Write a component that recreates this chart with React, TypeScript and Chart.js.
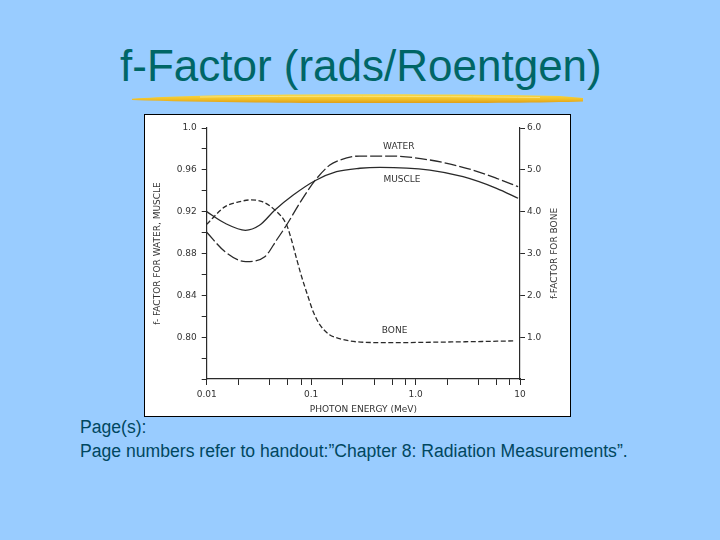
import React, { useEffect, useRef } from "react";
import { Chart, registerables } from "chart.js";

Chart.register(...registerables);

// ---- data ----
const energyWater = [0.01, 0.015, 0.0237, 0.036, 0.0467, 0.058, 0.081, 0.1087, 0.151, 0.189, 0.29, 0.565, 1.37, 3.08, 5.96, 9.59];
const fWater = [0.9003, 0.8817, 0.8722, 0.8769, 0.8929, 0.907, 0.931, 0.9496, 0.9646, 0.9694, 0.9732, 0.9732, 0.9694, 0.9615, 0.9519, 0.9439];

const energyMuscle = [0.01, 0.015, 0.0235, 0.032, 0.045, 0.0674, 0.1087, 0.175, 0.293, 0.455, 1.37, 2.85, 5.96, 9.59];
const fMuscle = [0.92, 0.9089, 0.9022, 0.907, 0.9216, 0.9359, 0.9496, 0.9582, 0.9615, 0.9624, 0.9598, 0.9534, 0.9423, 0.9328];

const energyBone = [0.01, 0.015, 0.0208, 0.026, 0.034, 0.045, 0.0583, 0.0651, 0.073, 0.081, 0.094, 0.105, 0.121, 0.15, 0.19, 0.27, 0.5, 0.71, 1.5, 3, 8.6];
const fBone = [3.7, 4.12, 4.24, 4.28, 4.24, 4.04, 3.68, 3.31, 2.85, 2.45, 1.95, 1.6, 1.3, 1.06, 0.96, 0.89, 0.87, 0.87, 0.88, 0.89, 0.91];

const energyTicks = [0.01, 0.02, 0.04, 0.06, 0.08, 0.1, 0.2, 0.4, 0.6, 0.8, 1, 2, 4, 6, 8, 10];
const energyLabeled = [0.01, 0.1, 1, 10];
const energyLabelText = ["0.01", "0.1", "1.0", "10"];

const leftTicks = [0.76, 0.78, 0.8, 0.82, 0.84, 0.86, 0.88, 0.9, 0.92, 0.94, 0.96, 0.98, 1.0];
const leftLabeled = [0.8, 0.84, 0.88, 0.92, 0.96, 1.0];
const leftLabelText = ["0.80", "0.84", "0.88", "0.92", "0.96", "1.0"];

const rightTicks = [0, 1, 2, 3, 4, 5, 6];
const rightLabeled = [1, 2, 3, 4, 5, 6];
const rightLabelText = ["1.0", "2.0", "3.0", "4.0", "5.0", "6.0"];

const curveLabels = ["WATER", "MUSCLE", "BONE"];
const curveLabelEnergy = [0.69, 0.74, 0.63];
const curveLabelF = [0.9818, 0.9503, 0.8059];

const titleText = "f-Factor (rads/Roentgen)";
const xTitle = "PHOTON ENERGY (MeV)";
const leftTitle = "f- FACTOR FOR WATER, MUSCLE";
const rightTitle = "f-FACTOR FOR BONE";
const noteLine1 = "Page(s):";
const noteLine2 = "Page numbers refer to handout:\u201DChapter 8: Radiation Measurements\u201D.";

const INK = "#2a2a2a";
const TEXT = "#333333";
const FONT = { family: "'DejaVu Sans', sans-serif", size: 9 };

function pick(value: number, keys: number[], texts: string[]): string {
  for (let i = 0; i < keys.length; i++) {
    if (Math.abs(keys[i] - value) < 1e-6) return texts[i];
  }
  return "";
}

const annotatePlugin = {
  id: "curveAnnotations",
  afterDatasetsDraw(chart: any) {
    const { ctx, scales } = chart;
    const x = scales.x;
    const y = scales.y;
    const y2 = scales.y2;
    ctx.save();
    ctx.font = "9px 'DejaVu Sans', sans-serif";
    ctx.fillStyle = TEXT;
    ctx.textAlign = "center";
    ctx.textBaseline = "middle";
    curveLabels.forEach((t, i) => {
      ctx.fillText(t, x.getPixelForValue(curveLabelEnergy[i]), y.getPixelForValue(curveLabelF[i]));
    });
    ctx.translate(y2.right - 15, (y2.top + y2.bottom) / 2);
    ctx.rotate(-Math.PI / 2);
    ctx.fillText(rightTitle, 0, 0);
    ctx.restore();
  },
};

function FactorChart() {
  const ref = useRef<HTMLCanvasElement | null>(null);
  useEffect(() => {
    if (!ref.current) return;
    const tickGrid = (len: number) => ({
      display: true,
      drawOnChartArea: false,
      drawTicks: true,
      tickLength: len,
      color: INK,
      lineWidth: 1,
    });
    const border = { display: true, color: INK, width: 1.2 };
    const chart = new Chart(ref.current, {
      type: "line",
      data: {
        datasets: [
          {
            label: "WATER",
            data: energyWater.map((e, i) => ({ x: e, y: fWater[i] })),
            yAxisID: "y",
            borderColor: INK,
            borderWidth: 1.3,
            borderDash: [12, 3],
            pointRadius: 0,
            cubicInterpolationMode: "monotone",
            fill: false,
          },
          {
            label: "MUSCLE",
            data: energyMuscle.map((e, i) => ({ x: e, y: fMuscle[i] })),
            yAxisID: "y",
            borderColor: INK,
            borderWidth: 1.3,
            pointRadius: 0,
            cubicInterpolationMode: "monotone",
            fill: false,
          },
          {
            label: "BONE",
            data: energyBone.map((e, i) => ({ x: e, y: fBone[i] })),
            yAxisID: "y2",
            borderColor: INK,
            borderWidth: 1.3,
            borderDash: [5, 2.5],
            pointRadius: 0,
            cubicInterpolationMode: "monotone",
            fill: false,
          },
        ],
      },
      options: {
        animation: false,
        responsive: false,
        maintainAspectRatio: false,
        layout: { padding: { top: 13, left: 0, right: 0, bottom: 0 } },
        plugins: { legend: { display: false }, tooltip: { enabled: false } },
        scales: {
          x: {
            type: "logarithmic",
            position: "bottom",
            min: 0.01,
            max: 10,
            afterBuildTicks: (s: any) => {
              s.ticks = energyTicks.map((v) => ({ value: v }));
            },
            afterFit: (s: any) => {
              s.height = 37;
            },
            ticks: {
              autoSkip: false,
              maxRotation: 0,
              minRotation: 0,
              padding: 4,
              color: TEXT,
              font: FONT,
              callback: (v: any) => pick(Number(v), energyLabeled, energyLabelText),
            },
            grid: tickGrid(6),
            border,
            title: { display: true, text: xTitle, color: TEXT, font: FONT, padding: { top: 0, bottom: 1 } },
          },
          y: {
            type: "linear",
            position: "left",
            min: 0.76,
            max: 1.0,
            afterBuildTicks: (s: any) => {
              s.ticks = leftTicks.map((v) => ({ value: v }));
            },
            afterFit: (s: any) => {
              s.width = 61.7;
            },
            ticks: {
              autoSkip: false,
              padding: 5,
              color: TEXT,
              font: FONT,
              callback: (v: any) => pick(Number(v), leftLabeled, leftLabelText),
            },
            grid: tickGrid(5),
            border,
            title: { display: true, text: leftTitle, color: TEXT, font: FONT, padding: { top: 7.6, bottom: 0 } },
          },
          y2: {
            type: "linear",
            position: "right",
            min: 0,
            max: 6,
            afterBuildTicks: (s: any) => {
              s.ticks = rightTicks.map((v) => ({ value: v }));
            },
            afterFit: (s: any) => {
              s.width = 50;
            },
            ticks: {
              autoSkip: false,
              padding: 2,
              color: TEXT,
              font: FONT,
              callback: (v: any) => pick(Number(v), rightLabeled, rightLabelText),
            },
            grid: tickGrid(5),
            border,
          },
        },
      } as any,
      plugins: [annotatePlugin],
    });
    return () => chart.destroy();
  }, []);
  return <canvas ref={ref} width={425} height={301} style={{ display: "block", width: 425, height: 301 }} />;
}

export default function App() {
  const noteStyle: React.CSSProperties = {
    position: "absolute",
    left: 80,
    fontSize: 17.6,
    lineHeight: "17.6px",
    color: "#004760",
    whiteSpace: "nowrap",
  };
  return (
    <div
      style={{
        position: "absolute",
        left: 0,
        top: 0,
        width: 720,
        height: 540,
        background: "#99CCFF",
        overflow: "hidden",
        fontFamily: "'Liberation Sans', Arial, sans-serif",
      }}
    >
      <div
        style={{
          position: "absolute",
          left: 120,
          top: 44,
          fontSize: 44,
          lineHeight: "44px",
          color: "#006666",
          whiteSpace: "nowrap",
        }}
      >
        {titleText}
      </div>
      <svg width={720} height={540} style={{ position: "absolute", left: 0, top: 0 }}>
        <defs>
          <linearGradient id="hlv" x1="0" y1="0" x2="0" y2="1">
            <stop offset="0" stopColor="#F8DA48" />
            <stop offset="0.55" stopColor="#F2C228" />
            <stop offset="1" stopColor="#DE9E18" />
          </linearGradient>
        </defs>
        <path
          d="M132 98.8 C 170 96.2, 220 95, 300 94.4 C 400 93.8, 500 94.6, 560 96 L 583 98 L 583 101.4 C 540 102.8, 460 103.2, 360 103 C 260 102.8, 190 101.8, 132 99.9 Z"
          fill="url(#hlv)"
        />
        <path d="M200 97 C 300 96, 420 96, 540 97.5" stroke="#FBE98A" strokeWidth={1} fill="none" opacity={0.8} />
      </svg>
      <div
        style={{
          position: "absolute",
          left: 144,
          top: 114,
          width: 425,
          height: 301,
          border: "1px solid #000",
          background: "#fff",
        }}
      >
        <FactorChart />
      </div>
      <div style={{ ...noteStyle, top: 419.4 }}>{noteLine1}</div>
      <div style={{ ...noteStyle, top: 442.7 }}>{noteLine2}</div>
    </div>
  );
}
